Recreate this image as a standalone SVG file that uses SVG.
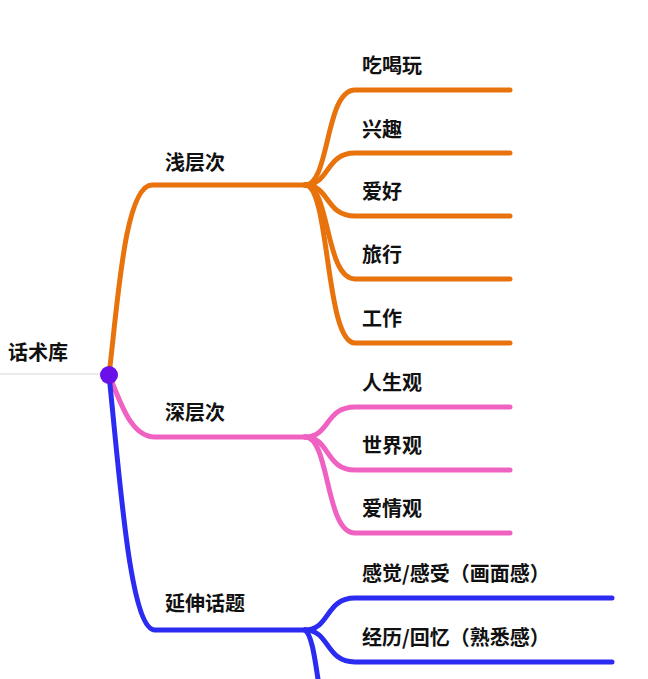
<svg xmlns="http://www.w3.org/2000/svg" width="648" height="679" viewBox="0 0 648 679">
<style>
text{font-family:"Noto Sans CJK SC","Noto Sans",sans-serif;font-size:20px;font-weight:600;fill:#111}
.o{stroke:#e8730c}.p{stroke:#f062c2}.b{stroke:#2b2bf2}
path{fill:none;stroke-width:5;stroke-linecap:round}
</style>
<rect width="648" height="679" fill="#fff"/>
<g id="connectors">
<path class="o" d="M109 375 C118 300 125 185 152 185 L305 185"/>
<path class="o" d="M305 185 C330 185 325 90 355 90 L510 90"/>
<path class="o" d="M305 185 C330 185 325 153 355 153 L510 153"/>
<path class="o" d="M305 185 C330 185 325 216 355 216 L510 216"/>
<path class="o" d="M305 185 C330 185 325 279 355 279 L510 279"/>
<path class="o" d="M305 185 C330 185 325 343 355 343 L510 343"/>
<path class="p" d="M109 375 C120 400 130 437 155 437 L305 437"/>
<path class="p" d="M305 437 C330 437 325 407 355 407 L510 407"/>
<path class="p" d="M305 437 C330 437 325 470 355 470 L510 470"/>
<path class="p" d="M305 437 C330 437 325 533 355 533 L510 533"/>
<path class="b" d="M109 375 C120 480 130 630 155 630 L305 630"/>
<path class="b" d="M305 630 C330 630 325 598 355 598 L612 598"/>
<path class="b" d="M305 630 C330 630 325 662 355 662 L612 662"/>
<path class="b" d="M305 630 C312 635 315 660 318 679"/>
</g>
<g id="root">
<line x1="0" y1="374" x2="100" y2="374" stroke="#e4e4e8" stroke-width="1.5"/>
<text x="8" y="360">话术库</text>
<circle cx="109" cy="375" r="9" fill="#6a10e8"/>
</g>
<g id="n1"><text x="165" y="170">浅层次</text></g>
<g id="n1a"><text x="362" y="73">吃喝玩</text></g>
<g id="n1b"><text x="362" y="137">兴趣</text></g>
<g id="n1c"><text x="362" y="199">爱好</text></g>
<g id="n1d"><text x="362" y="262">旅行</text></g>
<g id="n1e"><text x="362" y="326">工作</text></g>
<g id="n2"><text x="165" y="420">深层次</text></g>
<g id="n2a"><text x="362" y="390">人生观</text></g>
<g id="n2b"><text x="362" y="453">世界观</text></g>
<g id="n2c"><text x="362" y="516">爱情观</text></g>
<g id="n3"><text x="165" y="611">延伸话题</text></g>
<g id="n3a"><text x="362" y="581">感觉/感受（画面感）</text></g>
<g id="n3b"><text x="362" y="645">经历/回忆（熟悉感）</text></g>
</svg>
